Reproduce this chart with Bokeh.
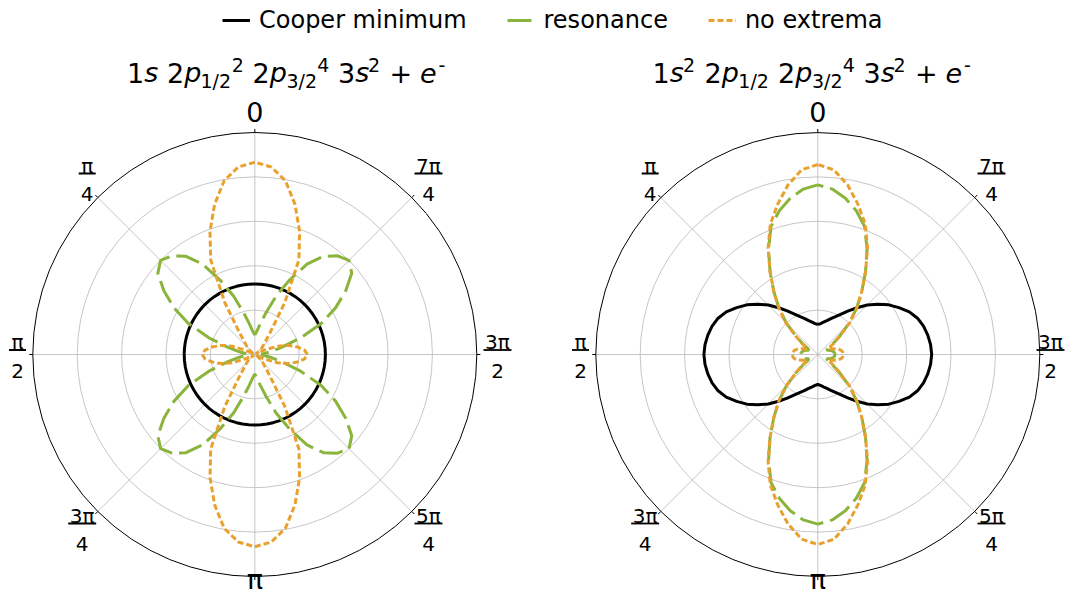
import numpy as np
from bokeh.plotting import figure
from bokeh.models import Range1d, Legend, LegendItem, ColumnDataSource
from bokeh.core.properties import value
from bokeh.embed import file_html
from bokeh.resources import INLINE

# ---------------- data (radius vs polar angle) ----------------
ANGLE_DEG = list(range(0, 361, 5))

COOPER_LEFT = [0.318] * 73

RESONANCE_LEFT = [
    0.088, 0.105, 0.140, 0.195, 0.280, 0.370, 0.470, 0.540, 0.580, 0.600, 0.570, 0.500, 0.420, 0.330, 0.220, 0.125, 0.070, 0.040, 0.030,
    0.040, 0.070, 0.125, 0.220, 0.330, 0.420, 0.500, 0.570, 0.600, 0.580, 0.540, 0.470, 0.370, 0.280, 0.195, 0.140, 0.105, 0.088,
    0.105, 0.140, 0.195, 0.280, 0.370, 0.470, 0.540, 0.580, 0.600, 0.570, 0.500, 0.420, 0.330, 0.220, 0.125, 0.070, 0.040, 0.030,
    0.040, 0.070, 0.125, 0.220, 0.330, 0.420, 0.500, 0.570, 0.600, 0.580, 0.540, 0.470, 0.370, 0.280, 0.195, 0.140, 0.105, 0.088,
]

NOEXT_LEFT = [
    0.866, 0.848, 0.795, 0.700, 0.590, 0.470, 0.270, 0.120, 0.070, 0.050, 0.035, 0.015, 0.005, 0.045, 0.110, 0.158, 0.195, 0.225, 0.237,
    0.225, 0.195, 0.158, 0.110, 0.045, 0.005, 0.015, 0.035, 0.050, 0.070, 0.120, 0.270, 0.470, 0.590, 0.700, 0.795, 0.848, 0.866,
    0.848, 0.795, 0.700, 0.590, 0.470, 0.270, 0.120, 0.070, 0.050, 0.035, 0.015, 0.005, 0.045, 0.110, 0.158, 0.195, 0.225, 0.237,
    0.225, 0.195, 0.158, 0.110, 0.045, 0.005, 0.015, 0.035, 0.050, 0.070, 0.120, 0.270, 0.470, 0.590, 0.700, 0.795, 0.848, 0.866,
]

COOPER_RIGHT = [
    0.135, 0.140, 0.148, 0.158, 0.172, 0.188, 0.210, 0.240, 0.275, 0.315, 0.352, 0.390, 0.422, 0.455, 0.478, 0.493, 0.503, 0.510, 0.513,
    0.510, 0.503, 0.493, 0.478, 0.455, 0.422, 0.390, 0.352, 0.315, 0.275, 0.240, 0.210, 0.188, 0.172, 0.158, 0.148, 0.140, 0.135,
    0.140, 0.148, 0.158, 0.172, 0.188, 0.210, 0.240, 0.275, 0.315, 0.352, 0.390, 0.422, 0.455, 0.478, 0.493, 0.503, 0.510, 0.513,
    0.510, 0.503, 0.493, 0.478, 0.455, 0.422, 0.390, 0.352, 0.315, 0.275, 0.240, 0.210, 0.188, 0.172, 0.158, 0.148, 0.140, 0.135,
]

RESONANCE_RIGHT = [
    0.764, 0.748, 0.715, 0.670, 0.615, 0.525, 0.430, 0.345, 0.272, 0.200, 0.130, 0.080, 0.050, 0.045, 0.055, 0.065, 0.072, 0.076, 0.078,
    0.076, 0.072, 0.065, 0.055, 0.045, 0.050, 0.080, 0.130, 0.200, 0.272, 0.345, 0.430, 0.525, 0.615, 0.670, 0.715, 0.748, 0.764,
    0.748, 0.715, 0.670, 0.615, 0.525, 0.430, 0.345, 0.272, 0.200, 0.130, 0.080, 0.050, 0.045, 0.055, 0.065, 0.072, 0.076, 0.078,
    0.076, 0.072, 0.065, 0.055, 0.045, 0.050, 0.080, 0.130, 0.200, 0.272, 0.345, 0.430, 0.525, 0.615, 0.670, 0.715, 0.748, 0.764,
]

NOEXT_RIGHT = [
    0.856, 0.835, 0.775, 0.700, 0.625, 0.530, 0.430, 0.345, 0.273, 0.205, 0.130, 0.088, 0.058, 0.055, 0.075, 0.095, 0.107, 0.113, 0.115,
    0.113, 0.107, 0.095, 0.075, 0.055, 0.058, 0.088, 0.130, 0.205, 0.273, 0.345, 0.430, 0.530, 0.625, 0.700, 0.775, 0.835, 0.856,
    0.835, 0.775, 0.700, 0.625, 0.530, 0.430, 0.345, 0.273, 0.205, 0.130, 0.088, 0.058, 0.055, 0.075, 0.095, 0.107, 0.113, 0.115,
    0.113, 0.107, 0.095, 0.075, 0.055, 0.058, 0.088, 0.130, 0.205, 0.273, 0.345, 0.430, 0.530, 0.625, 0.700, 0.775, 0.835, 0.856,
]

THETA_TICKS_DEG = [0, 45, 90, 135, 180, 225, 270, 315]
THETA_NUMER = ["0", "π", "π", "3π", "π", "5π", "3π", "7π"]
THETA_DENOM = ["", "4", "2", "4", "", "4", "2", "4"]
R_GRID = [0.2, 0.4, 0.6, 0.8]
R_MAX = 1.0
LEGEND_LABELS = ["Cooper minimum", "resonance", "no extrema"]

# title pieces: (text, x offset of glyph origin in px from title start, level n/b/p, italic)
TITLE_LEFT = [("1", 0.0, "n", False), ("s", 17.2, "n", True), ("2", 40.0, "n", False),
              ("p", 57.2, "n", True), ("1/2", 73.5, "b", False), ("2", 104.8, "p", False),
              ("2", 125.5, "n", False), ("p", 142.7, "n", True), ("3/2", 159.5, "b", False),
              ("4", 190.3, "p", False), ("3", 211.1, "n", False), ("s", 228.2, "n", True),
              ("2", 241.0, "p", False), ("+", 262.5, "n", False), ("e", 293.0, "n", True),
              ("-", 311.5, "p", False)]
TITLE_RIGHT = [("1", 0.0, "n", False), ("s", 17.2, "n", True), ("2", 30.5, "p", False),
               ("2", 52.0, "n", False), ("p", 69.2, "n", True), ("1/2", 85.8, "b", False),
               ("2", 125.5, "n", False), ("p", 142.7, "n", True), ("3/2", 159.5, "b", False),
               ("4", 190.3, "p", False), ("3", 211.1, "n", False), ("s", 228.2, "n", True),
               ("2", 241.0, "p", False), ("+", 262.5, "n", False), ("e", 293.0, "n", True),
               ("-", 311.5, "p", False)]

# ---------------- layout ----------------
W, H = 1065, 594
S = 222.0                      # px per radial unit
CX_L, CY = 254.3, 354.0        # px of left pole
CX_R = 817.3                   # px of right pole
TITLE_X0 = {"L": 126.5, "R": 652.0}
BLACK = "black"
GREEN = "#8ab43c"
ORANGE = "#e8a02f"
GRID_C = "#b8b8b8"
FONT = "DejaVu Sans"


def dx(xpage):
    return (xpage - CX_L) / S


def dy(ypage):
    return (CY - ypage) / S


def put_text(xp, base, txt, size, align="center", italic=False):
    # place text by its alphabetic baseline (px) using a middle anchor
    ymid = base - 0.30 * size
    p.text(x=[dx(xp)], y=[dy(ymid)], text=[txt], text_font=value(FONT),
           text_font_size=f"{size}px", text_font_style="italic" if italic else "normal",
           text_align=align, text_baseline="middle", text_color=BLACK)


p = figure(width=W, height=H, x_range=Range1d(dx(0), dx(W)), y_range=Range1d(dy(H), dy(0)),
           x_axis_type=None, y_axis_type=None, toolbar_location=None, output_backend="svg",
           min_border=0, outline_line_color=None)
p.background_fill_color = "white"

theta_ticks = np.deg2rad(np.array(THETA_TICKS_DEG, dtype=float))
ang = np.deg2rad(np.array(ANGLE_DEG, dtype=float))


def polar_frame(cx_page, right_edge_shift=0.0):
    cx = dx(cx_page)
    n = len(R_GRID)
    p.circle(x=[cx] * n, y=[0.0] * n, radius=R_GRID, fill_color=None, line_color=GRID_C, line_width=0.8)
    m = len(THETA_TICKS_DEG)
    p.segment(x0=[cx] * m, y0=[0.0] * m, x1=cx - R_MAX * np.sin(theta_ticks), y1=R_MAX * np.cos(theta_ticks),
              line_color=GRID_C, line_width=0.8)
    p.circle(x=[cx], y=[0.0], radius=[R_MAX], fill_color=None, line_color=BLACK, line_width=1.0)
    p.segment(x0=cx - R_MAX * np.sin(theta_ticks), y0=R_MAX * np.cos(theta_ticks),
              x1=cx - 1.016 * R_MAX * np.sin(theta_ticks), y1=1.016 * R_MAX * np.cos(theta_ticks),
              line_color=BLACK, line_width=1.0)

    # angular labels (offsets in px from the pole)
    frac_pos = {45: (-167.6, -181.0), 90: (-237.3, -4.5), 135: (-172.6, 169.0),
                225: (173.7, 169.0), 270: (242.7 + right_edge_shift, -4.5), 315: (173.7, -181.0)}
    for deg, num, den in zip(THETA_TICKS_DEG, THETA_NUMER, THETA_DENOM):
        if den == "":
            base = 120.0 if deg == 0 else 587.0
            put_text(cx_page, base, num, 27)
        else:
            ox, oy = frac_pos[deg]
            xc = cx_page + ox
            bar = CY + oy
            half = 8.5 if len(num) == 1 else 14.0
            put_text(xc, bar - 2.0, num, 20)
            put_text(xc, bar + 26.5, den, 20)
            p.segment(x0=[dx(xc - half)], y0=[dy(bar)], x1=[dx(xc + half)], y1=[dy(bar)],
                      line_color=BLACK, line_width=1.8)


polar_frame(CX_L)
polar_frame(CX_R, right_edge_shift=-10.0)


def curve(cx_page, radii, color, dash, width=3):
    r = np.array(radii, dtype=float)
    src = ColumnDataSource(dict(x=dx(cx_page) - r * np.sin(ang), y=r * np.cos(ang)))
    return p.line("x", "y", source=src, line_color=color, line_width=width, line_dash=dash)


GREEN_DASH = "24 7"
ORANGE_DASH = "6 3"
rb = curve(CX_L, COOPER_LEFT, BLACK, "solid")
rg = curve(CX_L, RESONANCE_LEFT, GREEN, GREEN_DASH)
ro = curve(CX_L, NOEXT_LEFT, ORANGE, ORANGE_DASH)
curve(CX_R, COOPER_RIGHT, BLACK, "solid")
curve(CX_R, RESONANCE_RIGHT, GREEN, GREEN_DASH)
curve(CX_R, NOEXT_RIGHT, ORANGE, ORANGE_DASH)

# titles (mathtext-like layout from plain text pieces)
LEVEL_SIZE = {"n": 27, "b": 19, "p": 19}
LEVEL_BASE = {"n": 80.5, "b": 86.0, "p": 70.5}
for key, pieces in (("L", TITLE_LEFT), ("R", TITLE_RIGHT)):
    for txt, off, lev, it in pieces:
        put_text(TITLE_X0[key] + off, LEVEL_BASE[lev], txt, LEVEL_SIZE[lev], align="left", italic=it)

legend = Legend(items=[LegendItem(label=LEGEND_LABELS[0], renderers=[rb]),
                       LegendItem(label=LEGEND_LABELS[1], renderers=[rg]),
                       LegendItem(label=LEGEND_LABELS[2], renderers=[ro])],
                orientation="horizontal", location=(222, 560), glyph_width=28, glyph_height=24,
                label_height=24, label_standoff=9, spacing=40, padding=0, margin=0,
                border_line_color=None, background_fill_alpha=0.0,
                label_text_font=FONT, label_text_font_size="24px", label_text_color=BLACK)
p.add_layout(legend)

open("out.html", "w").write(file_html(p, INLINE))
